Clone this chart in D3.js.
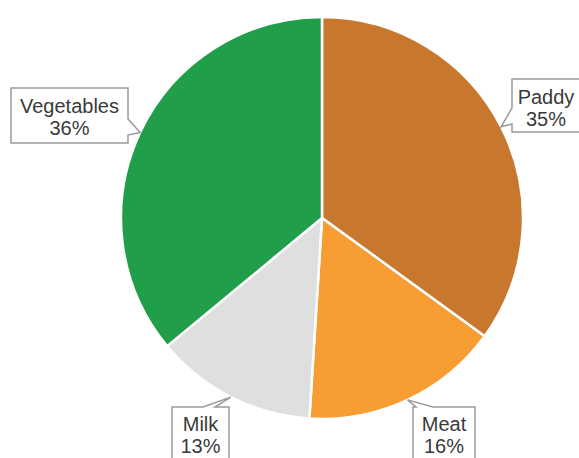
<!DOCTYPE html>
<html><head><meta charset="utf-8">
<script src="https://cdn.jsdelivr.net/npm/d3@7"></script>
<style>body{margin:0;background:#fff}svg{display:block}</style>
</head><body>
<svg id="chart" width="579" height="458"></svg>
<script>
const categories = ["Paddy", "Meat", "Milk", "Vegetables"];
const values = [35, 16, 13, 36];
const colors = ["#C8782E", "#F89C34", "#DEDFDE", "#209E4A"];

// callout box layout: [x, y, w, h, side, base0, base1]
const boxLayout = {
  "Paddy":      [512, 79, 68, 53, "left", 108, 124],
  "Meat":       [413, 407, 62, 60, "top", 416, 433],
  "Milk":       [172, 407, 57, 60, "top", 203, 215],
  "Vegetables": [11, 88, 117, 55, "right", 119, 135]
};

const svg = d3.select("#chart");
const cx = 322, cy = 218, R = 201;
const g = svg.append("g").attr("transform", `translate(${cx},${cy})`);

const data = categories.map((c, i) => ({cat: c, value: values[i], color: colors[i]}));
const pie = d3.pie().value(d => d.value).sort(null).startAngle(0).endAngle(2 * Math.PI);
const arcs = pie(data);
const arc = d3.arc().innerRadius(0).outerRadius(R);

g.selectAll("path.slice").data(arcs).join("path")
  .attr("class", "slice")
  .attr("d", arc)
  .attr("fill", d => d.data.color)
  .attr("stroke", "#fff")
  .attr("stroke-width", 2.5)
  .attr("stroke-linejoin", "round");

const total = d3.sum(values);
arcs.forEach(a => {
  const [x, y, w, h, side, b0, b1] = boxLayout[a.data.cat];
  const mid = (a.startAngle + a.endAngle) / 2;
  const tx = cx + R * Math.sin(mid), ty = cy - R * Math.cos(mid);
  let p;
  if (side === "right") {
    p = `M${x},${y}H${x + w}V${b0}L${tx},${ty}L${x + w},${b1}V${y + h}H${x}Z`;
  } else if (side === "left") {
    p = `M${x},${y}H${x + w}V${y + h}H${x}V${b1}L${tx},${ty}L${x},${b0}Z`;
  } else {
    p = `M${x},${y}H${b0}L${tx},${ty}L${b1},${y}H${x + w}V${y + h}H${x}Z`;
  }
  svg.append("path").attr("d", p)
    .attr("fill", "#fff").attr("stroke", "#9a9a9a").attr("stroke-width", 1.5)
    .attr("stroke-linejoin", "miter");
  const t = svg.append("text")
    .attr("x", x + w / 2)
    .attr("text-anchor", "middle")
    .attr("font-family", "Liberation Sans, Arial, sans-serif")
    .attr("font-size", 20)
    .attr("fill", "#3a3a3a");
  const topY = side === "top" ? y + 24 : y + 25;
  t.append("tspan").attr("x", x + w / 2).attr("y", topY).text(a.data.cat);
  t.append("tspan").attr("x", x + w / 2).attr("y", topY + 22)
    .text(Math.round(a.data.value / total * 100) + "%");
});
</script>
</body></html>
